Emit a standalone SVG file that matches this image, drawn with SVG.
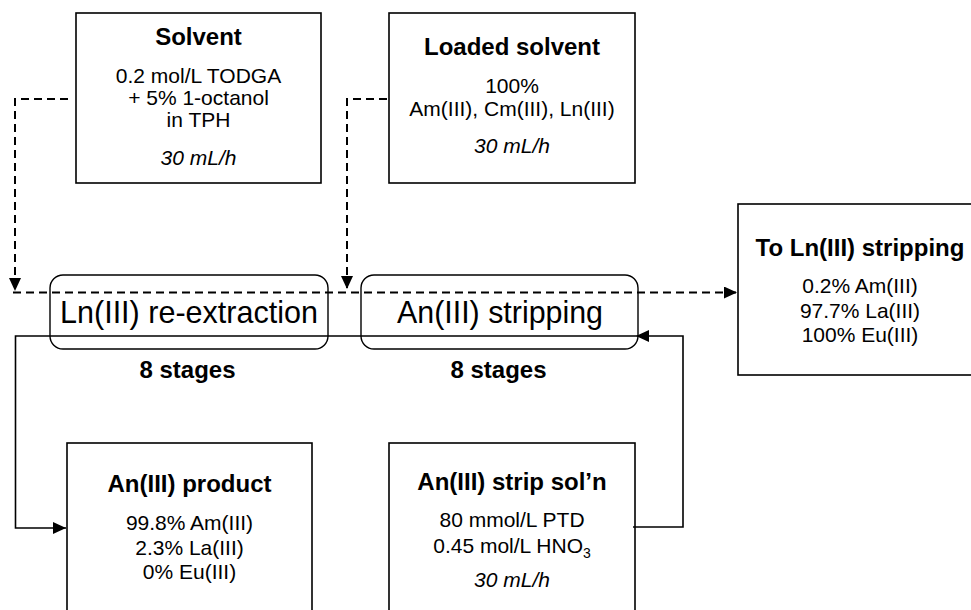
<svg xmlns="http://www.w3.org/2000/svg" width="971" height="610" viewBox="0 0 971 610">
<style>
.box{fill:#fff;stroke:#000;stroke-width:1.6}
.stage{fill:none;stroke:#000;stroke-width:1.4}
.t{font-family:"Liberation Sans",Arial,sans-serif;fill:#000;text-anchor:middle}
.h{font-size:24px;font-weight:bold}
.r{font-size:21px}
.i{font-size:21px;font-style:italic}
.big{font-size:32px}
.dash{fill:none;stroke:#000;stroke-width:2;stroke-dasharray:8 5}
.solid{fill:none;stroke:#000;stroke-width:1.6}
</style>
<defs>
<marker id="ah" markerUnits="userSpaceOnUse" markerWidth="14" markerHeight="12" refX="13" refY="6" orient="auto">
<path d="M0,0 L13,6 L0,12 z" fill="#000" stroke="none"/>
</marker>
</defs>
<g id="node-solvent">
<rect class="box" x="76" y="13" width="245" height="170"/>
<text class="t h" x="198.5" y="45">Solvent</text>
<text class="t r" x="198.5" y="83">0.2 mol/L TODGA</text>
<text class="t r" x="198.5" y="105">+ 5% 1-octanol</text>
<text class="t r" x="198.5" y="127">in TPH</text>
<text class="t i" x="198.5" y="165">30 mL/h</text>
</g>
<g id="node-loaded">
<rect class="box" x="389" y="13" width="246" height="170"/>
<text class="t h" x="512" y="55">Loaded solvent</text>
<text class="t r" x="512" y="93">100%</text>
<text class="t r" x="512" y="116">Am(III), Cm(III), Ln(III)</text>
<text class="t i" x="512" y="153">30 mL/h</text>
</g>
<g id="node-toln">
<rect class="box" x="738" y="204" width="245" height="171"/>
<text class="t h" x="860" y="256">To Ln(III) stripping</text>
<text class="t r" x="860" y="293">0.2% Am(III)</text>
<text class="t r" x="860" y="318">97.7% La(III)</text>
<text class="t r" x="860" y="342">100% Eu(III)</text>
</g>
<g id="node-product">
<rect class="box" x="67" y="443" width="245" height="180"/>
<text class="t h" x="189.5" y="492">An(III) product</text>
<text class="t r" x="189.5" y="530">99.8% Am(III)</text>
<text class="t r" x="189.5" y="555">2.3% La(III)</text>
<text class="t r" x="189.5" y="579">0% Eu(III)</text>
</g>
<g id="node-strip">
<rect class="box" x="389" y="443" width="246" height="180"/>
<text class="t h" x="512" y="490">An(III) strip sol’n</text>
<text class="t r" x="512" y="527">80 mmol/L PTD</text>
<text class="t r" x="512" y="553">0.45 mol/L HNO<tspan font-size="14" dy="5">3</tspan></text>
<text class="t i" x="512" y="587">30 mL/h</text>
</g>
<g id="node-lnreext">
<rect class="stage" x="50" y="275" width="278" height="74" rx="13" ry="13"/>
<text class="t big" x="189" y="323" textLength="258" lengthAdjust="spacingAndGlyphs">Ln(III) re-extraction</text>
<text class="t h" x="187.5" y="378">8 stages</text>
</g>
<g id="node-anstrip">
<rect class="stage" x="361" y="275" width="277" height="74" rx="13" ry="13"/>
<text class="t big" x="500" y="323" textLength="206" lengthAdjust="spacingAndGlyphs">An(III) stripping</text>
<text class="t h" x="498.5" y="378">8 stages</text>
</g>
<g id="connectors">
<path class="dash" d="M68,99 H15 V291" marker-end="url(#ah)"/>
<path class="dash" d="M387,99 H347 V289" marker-end="url(#ah)"/>
<path class="dash" d="M13,292.5 H737" marker-end="url(#ah)"/>
<path class="solid" d="M633,527 H683 V336 H636" marker-end="url(#ah)"/>
<path class="solid" d="M636,336 H15.5 V528 H66" marker-end="url(#ah)"/>
</g>
</svg>
